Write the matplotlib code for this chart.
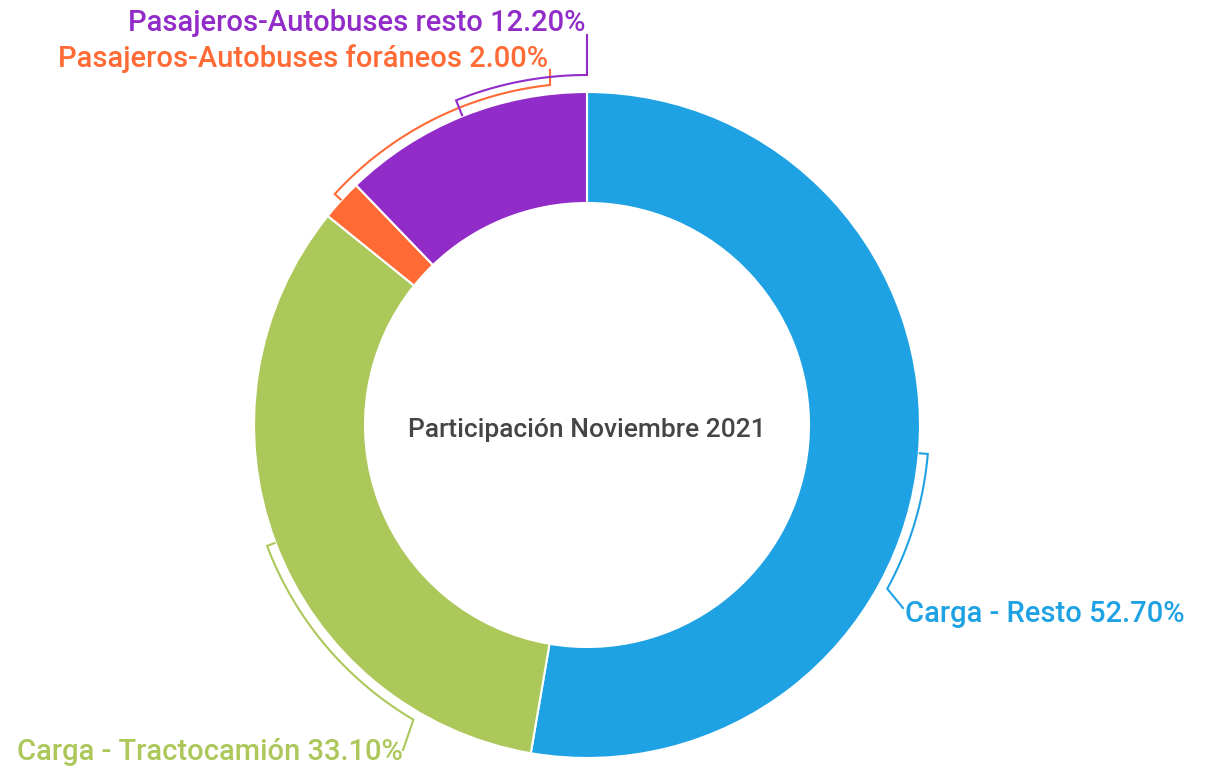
import numpy as np
import matplotlib.pyplot as plt

plt.rcParams['font.family'] = ['Roboto', 'DejaVu Sans']

categorias = ['Carga - Resto', 'Carga - Tractocamión',
              'Pasajeros-Autobuses foráneos', 'Pasajeros-Autobuses resto']
valores = [52.70, 33.10, 2.00, 12.20]
colores = ['#1fa2e4', '#acc75a', '#ff6a35', '#912cc8']
titulo_centro = 'Participación Noviembre 2021'

# layout (pixel coordinates, y measured from the top of the image)
W, H = 1208, 768
cx, cy = 587, 425
r_ext, ancho = 333, 111
# bracket arc: radius, end angle, leader end point, label anchor
brackets = [
    dict(r=342, fin=-28.6, leader=(903, 608), txt=(905, 614), ha='left'),
    dict(r=342, fin=239.5, leader=(403, 750), txt=(403, 752), ha='right'),
    dict(r=342, fin=96.2, leader=(550, 70), txt=(548, 59), ha='right'),
    dict(r=350, fin=90.0, leader=(587, 35), txt=(585, 23), ha='right'),
]

fig = plt.figure(figsize=(W / 100, H / 100), dpi=100)
ax = fig.add_axes([0, 0, 1, 1])

ax.pie(valores, colors=colores, startangle=90, counterclock=False,
       radius=r_ext, center=(cx, H - cy), frame=False,
       wedgeprops=dict(width=ancho, edgecolor='white', linewidth=1.5))
ax.set_xlim(0, W)
ax.set_ylim(0, H)
ax.set_aspect('equal')
ax.axis('off')

ax.text(cx, H - 430, titulo_centro, ha='center', va='center',
        fontsize=19, fontweight='medium', color='#454545')

acum = np.concatenate([[0], np.cumsum(valores)]) / sum(valores)
for i, (cat, val, col, b) in enumerate(zip(categorias, valores, colores, brackets)):
    a0 = 90 - 360 * acum[i]
    a1 = 90 - 360 * acum[i + 1]
    medio = (a0 + a1) / 2
    medio = ((medio - b['fin'] + 180) % 360) - 180 + b['fin']
    ang = np.radians(np.linspace(medio, b['fin'], 80))
    xs = cx + b['r'] * np.cos(ang)
    ys = (H - cy) + b['r'] * np.sin(ang)
    # inward tick at start
    tick_in = r_ext + 1
    xt = cx + tick_in * np.cos(ang[0])
    yt = (H - cy) + tick_in * np.sin(ang[0])
    lx, ly = b['leader']
    xs_all = np.concatenate([[xt], xs, [lx]])
    ys_all = np.concatenate([[yt], ys, [H - ly]])
    ax.plot(xs_all, ys_all, color=col, linewidth=1.5, solid_joinstyle='miter')
    tx, ty = b['txt']
    ax.text(tx, H - ty, f'{cat} {val:.2f}%', ha=b['ha'], va='center',
            fontsize=21, fontweight='medium', color=col)

fig.savefig('out.png', dpi=100)
